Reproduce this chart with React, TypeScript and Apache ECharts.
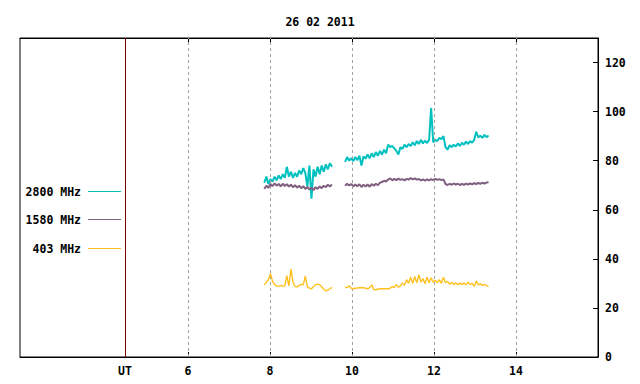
import React, { useEffect, useRef } from "react";
import * as echarts from "echarts";

const TITLE = "26 02 2011";
const X_MIN = 1.9;
const X_MAX = 16;
const UT_POS = 4.46;
const X_TICKS = [6, 8, 10, 12, 14];
const Y_MAX = 130;
const Y_INTERVAL = 20;

const SERIES_NAMES = ["2800 MHz", "1580 MHz", "403 MHz"];
const SERIES_COLORS = ["#00c0c0", "#806080", "#ffc020"];
const SERIES_WIDTHS = [2, 2, 1.4];

const STEP = 0.05;
const SEG1_START = 7.86;
const SEG2_START = 9.83;
const GAP_T = 9.67;

const S2800_A = [71, 73.5, 70.5, 72.5, 71.5, 73.5, 72, 74, 72.5, 74.5, 73, 77.5, 73.5, 75.5, 73, 75, 73.5, 76, 74.5, 77, 75, 69.5, 78, 64.5, 76.5, 73.5, 77.5, 74.5, 78, 75.5, 78.5, 76.5, 79, 77.5];
const S2800_B = [79.5, 81.5, 80, 81, 79.8, 81.5, 80.2, 82, 78, 81.8, 80.8, 82.5, 81, 83, 81.5, 83.5, 82, 84, 82.5, 84.5, 83, 86.5, 85.5, 86, 85, 84, 82.5, 85.5, 84.8, 86.5, 85.5, 86.8, 86, 87.5, 86.3, 88, 86.8, 88.5, 87, 88.2, 87.2, 88.5, 101.5, 87.5, 88.5, 88, 89.3, 88.8, 90, 85.5, 84.5, 86.3, 85.5, 86.5, 85.8, 87, 86, 87.3, 86.5, 87.8, 86.8, 88, 87.3, 88.5, 91.8, 89.5, 90.2, 89.3, 90.5, 89.6, 90.3];

const S1580_A = [68.5, 69.8, 69, 70.5, 69.6, 70.8, 69.8, 70.5, 69.5, 70.6, 69.7, 70.4, 69.5, 70.2, 69.2, 70, 69, 69.8, 68.8, 69.6, 68.5, 69.3, 68.2, 69, 68, 69.2, 68.5, 69.5, 68.8, 69.8, 69.2, 70.2, 69.5, 70.3];
const S1580_B = [69.8, 70.6, 69.9, 70.5, 69.5, 70.3, 69.6, 70.4, 69.3, 70.2, 69.5, 70.3, 69.4, 70.5, 69.8, 70.6, 70, 71, 71.3, 71.8, 71.5, 72.3, 72.8, 72, 72.6, 72.1, 72.7, 72.2, 72.5, 72, 72.6, 72.3, 72.9, 72.4, 72.8, 72.3, 72.5, 72, 72.4, 71.9, 72.4, 72, 72.5, 72.1, 72.6, 72.2, 72.5, 72.1, 72.4, 70.5, 70.1, 70.6, 70.2, 70.7, 70.3, 70.6, 70.1, 70.5, 70.2, 70.6, 70.3, 70.7, 70.4, 70.8, 70.5, 70.9, 70.6, 71, 70.7, 71.1, 71.2];

const S403_A = [29.4, 30.5, 31.5, 34, 30.8, 29.5, 29, 28.8, 29.2, 28.8, 29, 33.2, 29, 35.8, 30.3, 28.8, 28.5, 29.2, 29.6, 29.4, 33, 28.6, 28, 27.8, 28.6, 29.5, 29.7, 29.4, 28.6, 27.6, 27, 27.2, 27.8, 28.4];
const S403_B = [28.5, 28.3, 29, 28, 27.8, 28, 28.1, 28.3, 28.2, 28.3, 28, 27.8, 28.3, 29.4, 27.5, 27.4, 27.6, 27.8, 27.8, 27.8, 27.8, 27.8, 28, 28.7, 28.3, 29.5, 28.5, 29, 30.2, 29.2, 31.5, 30, 32.5, 30, 32.8, 30.2, 33.5, 30.5, 32, 29.8, 32.5, 30.3, 32.3, 30.5, 31.3, 30.2, 31.5, 30, 32.5, 30.3, 30.8, 29.6, 30.5, 29.5, 30.2, 29.4, 30.2, 29.5, 30.3, 29.3, 30.5, 29.6, 30, 28.8, 31, 29.4, 29.8, 29.2, 29.6, 29.1, 28.8];

const FONT = "'DejaVu Sans Mono', monospace";

function seg(start: number, values: number[]) {
  return values.map((v, i) => [start + i * STEP, v]);
}
function build(a: number[], b: number[]) {
  return [...seg(SEG1_START, a), [GAP_T, "-"], ...seg(SEG2_START, b)];
}

export default function App() {
  const ref = useRef<HTMLDivElement>(null);
  useEffect(() => {
    if (!ref.current) return;
    const chart = echarts.init(ref.current, null, { renderer: "svg" });
    const datasets = [build(S2800_A, S2800_B), build(S1580_A, S1580_B), build(S403_A, S403_B)];
    const legendY = [191.5, 219.5, 248.5];
    const textStyle = { fontFamily: FONT, fontWeight: "bold" as const, fontSize: 11.5, color: "#000" };
    const graphics: any[] = [];
    SERIES_NAMES.forEach((n, i) => {
      graphics.push({
        type: "text",
        x: 81,
        y: legendY[i],
        style: { text: n, font: `bold 11.5px ${FONT}`, fill: "#000", textAlign: "right", textVerticalAlign: "middle" },
      });
      graphics.push({
        type: "line",
        shape: { x1: 88, y1: legendY[i], x2: 121, y2: legendY[i] },
        style: { stroke: SERIES_COLORS[i], lineWidth: 1 },
      });
    });
    chart.setOption({
      animation: false,
      backgroundColor: "#fff",
      title: {
        text: TITLE,
        left: "center",
        top: 11,
        textStyle: { ...textStyle, fontSize: 11.5 },
      },
      grid: { left: 20, right: 42, top: 38, bottom: 27, show: true, borderColor: "#000", borderWidth: 1, backgroundColor: "transparent" },
      xAxis: [
        {
          type: "value",
          min: X_MIN,
          max: X_MAX,
          position: "bottom",
          axisLine: { show: true, lineStyle: { color: "#000" } },
          axisTick: { show: true, inside: true, length: 5, customValues: X_TICKS, lineStyle: { color: "#000" } },
          axisLabel: {
            show: true,
            customValues: [UT_POS, ...X_TICKS],
            formatter: (v: number) => (Math.abs(v - UT_POS) < 1e-6 ? "UT" : String(v)),
            margin: 8,
            ...textStyle,
          },
          splitLine: { show: false },
        },
        {
          type: "value",
          min: X_MIN,
          max: X_MAX,
          position: "top",
          axisLine: { show: true, lineStyle: { color: "#000" } },
          axisTick: { show: true, inside: true, length: 5, customValues: X_TICKS, lineStyle: { color: "#000" } },
          axisLabel: { show: false },
          splitLine: { show: false },
        },
      ],
      yAxis: {
        type: "value",
        min: 0,
        max: Y_MAX,
        interval: Y_INTERVAL,
        position: "right",
        axisLine: { show: true, lineStyle: { color: "#000" } },
        axisTick: { show: true, inside: true, length: 5, lineStyle: { color: "#000" } },
        axisLabel: { show: true, margin: 7, ...textStyle, showMaxLabel: false },
        splitLine: { show: false },
      },
      graphic: graphics,
      series: [
        ...SERIES_NAMES.map((n, i) => ({
          name: n,
          type: "line",
          data: datasets[i],
          showSymbol: false,
          connectNulls: false,
          lineStyle: { color: SERIES_COLORS[i], width: SERIES_WIDTHS[i] },
          itemStyle: { color: SERIES_COLORS[i] },
          z: 3 + i,
          silent: true,
        })),
        {
          type: "line",
          data: [],
          silent: true,
          z: 1,
          markLine: {
            silent: true,
            symbol: "none",
            label: { show: false },
            data: [
              ...X_TICKS.map((t) => ({ xAxis: t, lineStyle: { color: "#a0a0a0", type: [3, 3], width: 1 } })),
              { xAxis: UT_POS, lineStyle: { color: "#7a0000", type: "solid", width: 1 } },
            ],
          },
        },
      ],
    });
    return () => chart.dispose();
  }, []);
  return <div ref={ref} style={{ position: "fixed", left: 0, top: 0, width: 640, height: 384 }} />;
}
